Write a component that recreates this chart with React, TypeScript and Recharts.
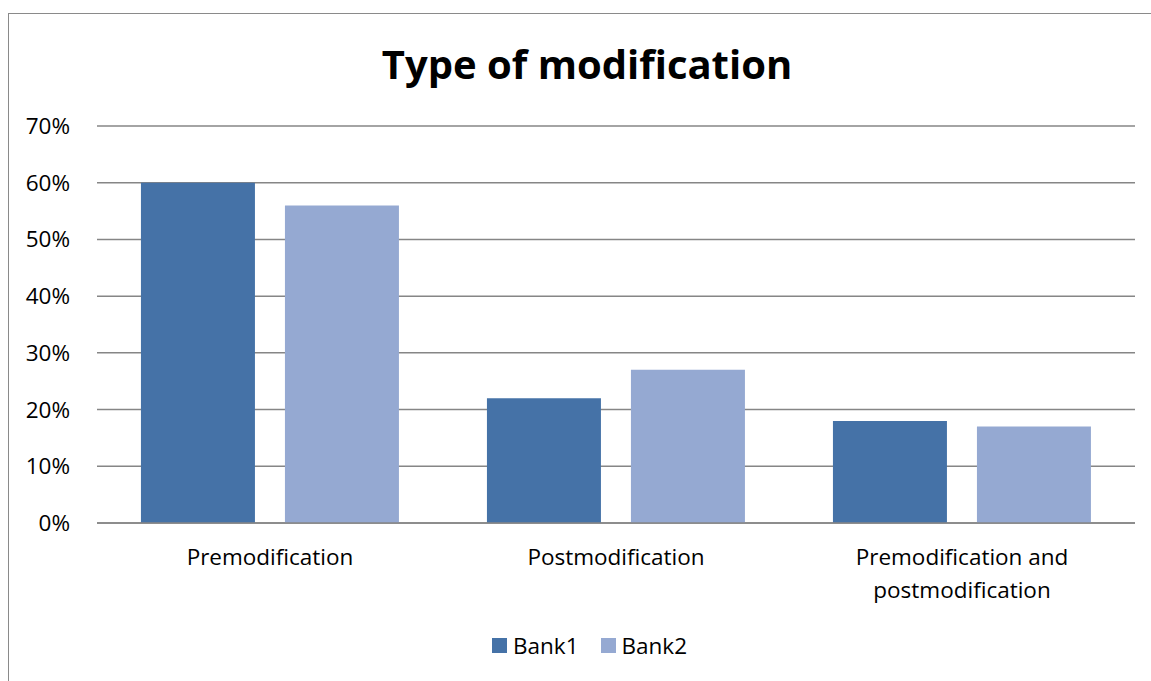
import { BarChart, Bar, XAxis, YAxis, CartesianGrid, Legend } from 'recharts';

const categories = ['Premodification', 'Postmodification', 'Premodification and\npostmodification'];
const bank1 = [60, 22, 18];
const bank2 = [56, 27, 17];
const yTicks = [0, 10, 20, 30, 40, 50, 60, 70];

const data = categories.map((name, i) => ({ name, Bank1: bank1[i], Bank2: bank2[i] }));

const FONT = '"Open Sans", sans-serif';

// multi-line category labels, split on \n
const CategoryTick = (props: any) => {
  const { x, y, payload } = props;
  const lines = String(payload.value).split('\n');
  return (
    <text x={x} y={y} textAnchor="middle" fill="#000" fontSize={22.5} fontFamily={FONT}>
      {lines.map((line, i) => (
        <tspan key={i} x={x} dy={i === 0 ? 34 : 33}>
          {line}
        </tspan>
      ))}
    </text>
  );
};

const LegendContent = (props: any) => {
  const { payload } = props;
  return (
    <div
      style={{
        display: 'flex',
        justifyContent: 'center',
        paddingLeft: 34,
        fontFamily: FONT,
        fontSize: 22.5,
        color: '#000',
      }}
    >
      {payload.map((entry: any, i: number) => (
        <div key={entry.value} style={{ display: 'flex', alignItems: 'center', marginLeft: i === 0 ? 0 : 22 }}>
          <span style={{ display: 'inline-block', width: 15, height: 15, background: entry.color, marginRight: 6 }} />
          <span>{entry.value}</span>
        </div>
      ))}
    </div>
  );
};

const App = () => {
  return (
    <div style={{ position: 'absolute', left: 0, top: 0, width: 1151, height: 681, background: '#fff', overflow: 'hidden' }}>
      {/* chart frame, runs off the right and bottom edges */}
      <div style={{ position: 'absolute', left: 8, top: 13, width: 1200, height: 720, border: '1px solid #8a8a8a' }} />
      <div
        style={{
          position: 'absolute',
          left: 0,
          width: 1174,
          top: 36,
          textAlign: 'center',
          fontFamily: FONT,
          fontWeight: 'bold',
          fontSize: 40,
          color: '#000',
        }}
      >
        Type of modification
      </div>
      <div style={{ position: 'absolute', left: 0, top: 0 }}>
        <BarChart
          width={1151}
          height={681}
          data={data}
          margin={{ top: 126, right: 16, bottom: 37, left: 10 }}
          barCategoryGap="12.7%"
          barGap={30}
        >
          <CartesianGrid vertical={false} stroke="#868686" strokeWidth={1.5} />
          <XAxis
            dataKey="name"
            tick={<CategoryTick />}
            tickLine={false}
            axisLine={{ stroke: '#868686', strokeWidth: 1.5 }}
            interval={0}
            height={90}
          />
          <YAxis
            width={87}
            domain={[0, 70]}
            ticks={yTicks}
            tickFormatter={(v: number) => `${v}%`}
            tickLine={false}
            axisLine={false}
            tickSize={0}
            tickMargin={27}
            tick={{ fill: '#000', fontSize: 22.5, fontFamily: FONT }}
          />
          <Legend
            verticalAlign="bottom"
            align="center"
            content={<LegendContent />}
            wrapperStyle={{ top: 630 }}
          />
          <Bar dataKey="Bank1" fill="#4572A7" isAnimationActive={false} />
          <Bar dataKey="Bank2" fill="#95A9D2" isAnimationActive={false} />
        </BarChart>
      </div>
    </div>
  );
};

export default App;
